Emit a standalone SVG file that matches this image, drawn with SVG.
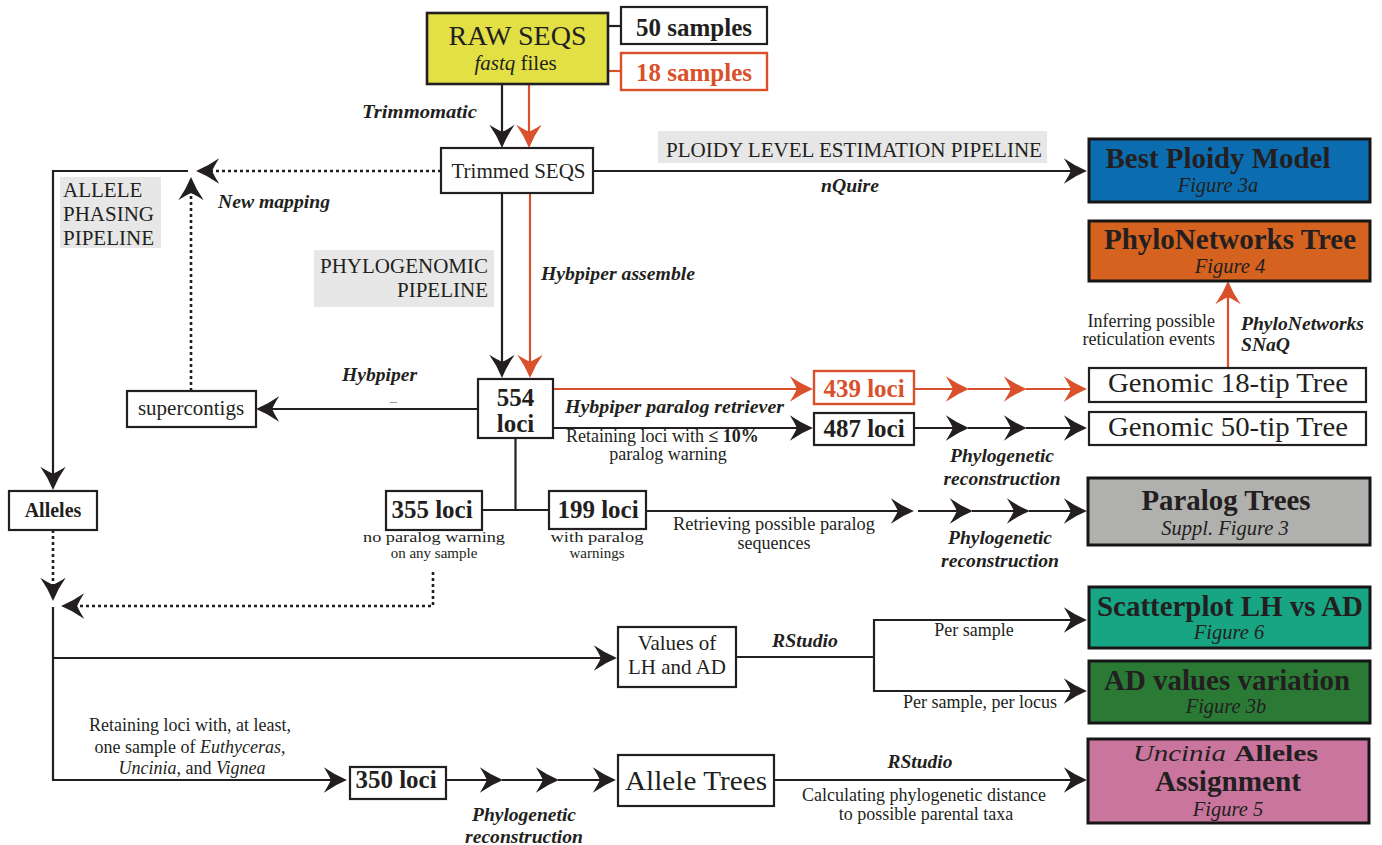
<svg xmlns="http://www.w3.org/2000/svg" width="1382" height="845" viewBox="0 0 1382 845">
<style>
text{font-family:"Liberation Serif","Times New Roman",serif;fill:#231f20}
.m{font-size:21px}
.s{font-size:18px}
.ss{font-size:15px}
.bi{font-size:19.5px;font-weight:bold;font-style:italic}
.lb{font-size:25px;font-weight:bold}
.ttl{font-size:28.5px;font-weight:bold}
.fig{font-size:20.5px;font-style:italic}
.c{text-anchor:middle}
.e{text-anchor:end}
.red{fill:#d9502a}
.box{fill:#fff;stroke:#231f20;stroke-width:2.2}
.rbox{fill:#fff;stroke:#d9502a;stroke-width:2.4}
.out{stroke:#161616;stroke-width:3}
.gbg{fill:#e6e7e6}
.ln{fill:none;stroke:#231f20;stroke-width:2.2}
.rl{fill:none;stroke:#d9502a;stroke-width:2.2}
.dt{stroke-dasharray:3 3;stroke-width:2.6}
.ak{marker-end:url(#ak)}
.ar{marker-end:url(#ar)}
</style>
<defs>
<marker id="ak" markerUnits="userSpaceOnUse" markerWidth="30" markerHeight="30" viewBox="-16 -13 24 26" refX="0" refY="0" orient="auto" overflow="visible">
<path d="M6,0 Q-4,-4 -14,-11 Q-9,-3 -8,0 Q-9,3 -14,11 Q-4,4 6,0Z" fill="#231f20"/>
</marker>
<marker id="ar" markerUnits="userSpaceOnUse" markerWidth="30" markerHeight="30" viewBox="-16 -13 24 26" refX="0" refY="0" orient="auto" overflow="visible">
<path d="M6,0 Q-4,-4 -14,-11 Q-9,-3 -8,0 Q-9,3 -14,11 Q-4,4 6,0Z" fill="#d9502a"/>
</marker>
</defs>
<rect width="1382" height="845" fill="#fff"/>

<!-- pipeline labels -->
<g id="label-ploidy"><rect class="gbg" x="658" y="131" width="389" height="32"/><text class="m" x="666" y="157" textLength="376" lengthAdjust="spacingAndGlyphs">PLOIDY LEVEL ESTIMATION PIPELINE</text></g>
<g id="label-allele"><rect class="gbg" x="60" y="177" width="101" height="71"/><text class="m" x="63" y="197">ALLELE</text><text class="m" x="63" y="221">PHASING</text><text class="m" x="63" y="245">PIPELINE</text></g>
<g id="label-phylogenomic"><rect class="gbg" x="314" y="250" width="180" height="57"/><text class="m e" x="488" y="273">PHYLOGENOMIC</text><text class="m e" x="488" y="297">PIPELINE</text></g>

<g id="connectors">
<line class="ln" x1="608" y1="26" x2="621" y2="26"/>
<line class="rl" x1="608" y1="71" x2="621" y2="71"/>
<line class="ln ak" x1="502" y1="84" x2="502" y2="141"/>
<line class="rl ar" x1="529" y1="84" x2="529" y2="141"/>
<line class="ln ak" x1="593" y1="171" x2="1080" y2="171"/>
<line class="ln dt ak" x1="441" y1="171" x2="203" y2="171"/>
<polyline class="ln ak" points="188,171 53,171 53,483"/>
<line class="ln dt ak" x1="191" y1="391" x2="191" y2="184"/>
<line class="ln ak" x1="502" y1="193" x2="502" y2="371"/>
<line class="rl ar" x1="530" y1="193" x2="530" y2="371"/>
<line class="ln ak" x1="478" y1="409" x2="263" y2="409"/>
<line x1="390" y1="402.5" x2="397" y2="402.5" stroke="#9a9a9a" stroke-width="1"/>
<line class="rl ar" x1="553" y1="389" x2="806" y2="389"/>
<line class="ln ak" x1="553" y1="428" x2="806" y2="428"/>
<line class="rl ar" x1="914" y1="389" x2="962" y2="389"/>
<line class="rl ar" x1="968" y1="389" x2="1020" y2="389"/>
<line class="rl ar" x1="1026" y1="389" x2="1080" y2="389"/>
<line class="ln ak" x1="914" y1="428" x2="962" y2="428"/>
<line class="ln ak" x1="968" y1="428" x2="1020" y2="428"/>
<line class="ln ak" x1="1026" y1="428" x2="1080" y2="428"/>
<line class="ln" x1="515.5" y1="438" x2="515.5" y2="510"/>
<line class="ln" x1="482" y1="510" x2="549" y2="510"/>
<line class="ln ak" x1="646" y1="511" x2="907" y2="511"/>
<line class="ln ak" x1="918" y1="511" x2="966" y2="511"/>
<line class="ln ak" x1="972" y1="511" x2="1023" y2="511"/>
<line class="ln ak" x1="1029" y1="511" x2="1080" y2="511"/>
<line class="ln dt ak" x1="53" y1="530" x2="53" y2="594"/>
<polyline class="ln dt ak" points="433,572 433,606 68,606"/>
<polyline class="ln ak" points="53,607 53,780 340,780"/>
<line class="ln ak" x1="53" y1="658" x2="610" y2="658"/>
<line class="ln" x1="736" y1="657" x2="874" y2="657"/>
<line class="ln" x1="874" y1="620" x2="874" y2="691"/>
<line class="ln ak" x1="873" y1="620" x2="1080" y2="620"/>
<line class="ln ak" x1="873" y1="691" x2="1080" y2="691"/>
<line class="ln ak" x1="446" y1="780" x2="496" y2="780"/>
<line class="ln ak" x1="502" y1="780" x2="552" y2="780"/>
<line class="ln ak" x1="558" y1="780" x2="609" y2="780"/>
<line class="ln ak" x1="774" y1="780" x2="1080" y2="780"/>
<line class="rl ar" x1="1228" y1="368" x2="1228" y2="288"/>
</g>

<!-- connector labels -->
<g id="edge-labels">
<text class="bi e" x="477" y="118" textLength="115" lengthAdjust="spacingAndGlyphs">Trimmomatic</text>
<text class="bi" x="218" y="208" textLength="112" lengthAdjust="spacingAndGlyphs">New mapping</text>
<text class="bi c" x="850" y="192" textLength="58" lengthAdjust="spacingAndGlyphs">nQuire</text>
<text class="bi" x="541" y="280" textLength="154" lengthAdjust="spacingAndGlyphs">Hybpiper assemble</text>
<text class="bi" x="342" y="381" textLength="75" lengthAdjust="spacingAndGlyphs">Hybpiper</text>
<text class="bi" x="565" y="413" textLength="219" lengthAdjust="spacingAndGlyphs">Hybpiper paralog retriever</text>
<text class="s" x="566" y="442">Retaining loci with <tspan font-weight="bold">≤ 10%</tspan></text>
<text class="s c" x="668" y="460">paralog warning</text>
<text class="bi c" x="1002" y="462" textLength="104" lengthAdjust="spacingAndGlyphs">Phylogenetic</text>
<text class="bi c" x="1002" y="485" textLength="117" lengthAdjust="spacingAndGlyphs">reconstruction</text>
<text class="s e" x="1215" y="327" font-size="16.5">Inferring possible</text>
<text class="s e" x="1215" y="345" font-size="16.5">reticulation events</text>
<text class="bi" x="1241" y="330" textLength="123" lengthAdjust="spacingAndGlyphs">PhyloNetworks</text>
<text class="bi" x="1241" y="351" textLength="49" lengthAdjust="spacingAndGlyphs">SNaQ</text>
<text class="ss c" x="434" y="542" textLength="142" lengthAdjust="spacingAndGlyphs">no paralog warning</text>
<text class="ss c" x="434" y="558">on any sample</text>
<text class="ss c" x="597" y="542" textLength="93" lengthAdjust="spacingAndGlyphs">with paralog</text>
<text class="ss c" x="597" y="558">warnings</text>
<text class="s c" x="774" y="530" font-size="17.5" textLength="202" lengthAdjust="spacingAndGlyphs">Retrieving possible paralog</text>
<text class="s c" x="774" y="549" font-size="17.5">sequences</text>
<text class="bi c" x="1000" y="544" textLength="104" lengthAdjust="spacingAndGlyphs">Phylogenetic</text>
<text class="bi c" x="1000" y="567" textLength="118" lengthAdjust="spacingAndGlyphs">reconstruction</text>
<text class="bi c" x="805" y="647" textLength="66" lengthAdjust="spacingAndGlyphs">RStudio</text>
<text class="s c" x="974" y="636">Per sample</text>
<text class="s c" x="980" y="708">Per sample, per locus</text>
<text class="s c" x="190" y="731">Retaining loci with, at least,</text>
<text class="s c" x="190" y="753">one sample of <tspan font-style="italic">Euthyceras</tspan>,</text>
<text class="s c" x="192" y="774"><tspan font-style="italic">Uncinia</tspan>, and <tspan font-style="italic">Vignea</tspan></text>
<text class="bi c" x="524" y="821" textLength="104" lengthAdjust="spacingAndGlyphs">Phylogenetic</text>
<text class="bi c" x="524" y="843" textLength="118" lengthAdjust="spacingAndGlyphs">reconstruction</text>
<text class="bi c" x="920" y="768" textLength="65" lengthAdjust="spacingAndGlyphs">RStudio</text>
<text class="s c" x="924" y="801">Calculating phylogenetic distance</text>
<text class="s c" x="926" y="820">to possible parental taxa</text>
</g>

<g id="raw-seqs"><rect x="427" y="13" width="181" height="71" fill="#e2e044" stroke="#231f20" stroke-width="2.6"/><text class="c" x="517.5" y="45" font-size="28">RAW SEQS</text><text class="m c" x="515.5" y="70"><tspan font-style="italic">fastq</tspan> files</text></g>
<g id="samples-50"><rect class="box" x="621" y="7" width="146" height="37"/><text class="lb c" x="694" y="36" font-size="26">50 samples</text></g>
<g id="samples-18"><rect class="rbox" x="621" y="53" width="146" height="37"/><text class="lb c red" x="694" y="81" font-size="26">18 samples</text></g>
<g id="trimmed"><rect class="box" x="441" y="148" width="152" height="45"/><text class="m c" x="518.5" y="178">Trimmed SEQS</text></g>
<g id="supercontigs"><rect class="box" x="127" y="391" width="129" height="36"/><text class="m c" x="191" y="415">supercontigs</text></g>
<g id="loci-554"><rect class="box" x="478" y="379" width="75" height="59"/><text class="lb c" x="515.5" y="406" font-size="26">554</text><text class="lb c" x="515.5" y="432" font-size="26">loci</text></g>
<g id="loci-439"><rect class="rbox" x="814" y="371" width="100" height="33"/><text class="lb c red" x="864" y="397" font-size="26">439 loci</text></g>
<g id="loci-487"><rect class="box" x="814" y="413" width="100" height="32"/><text class="lb c" x="864" y="437" font-size="26">487 loci</text></g>
<g id="loci-355"><rect class="box" x="386" y="491" width="96" height="39"/><text class="lb c" x="432" y="518" font-size="24">355 loci</text></g>
<g id="loci-199"><rect class="box" x="549" y="491" width="97" height="38"/><text class="lb c" x="598" y="518" font-size="24">199 loci</text></g>
<g id="alleles"><rect class="box" x="9" y="491" width="88" height="39"/><text class="c" x="53" y="517" font-size="20" font-weight="bold">Alleles</text></g>
<g id="values"><rect class="box" x="618" y="627" width="118" height="60"/><text class="m c" x="677" y="650">Values of</text><text class="m c" x="677" y="674">LH and AD</text></g>
<g id="loci-350"><rect class="box" x="350" y="767" width="96" height="32"/><text class="lb c" x="396" y="788" font-size="24">350 loci</text></g>
<g id="allele-trees"><rect class="box" x="618" y="755" width="156" height="51"/><text class="c" x="696" y="790" font-size="28" textLength="142" lengthAdjust="spacingAndGlyphs">Allele Trees</text></g>

<g id="best-ploidy"><rect class="out" x="1089" y="139" width="281" height="63" fill="#0b6db0"/><text class="ttl c" x="1218" y="168" textLength="225" lengthAdjust="spacingAndGlyphs">Best Ploidy Model</text><text class="fig c" x="1218" y="192">Figure 3a</text></g>
<g id="phylonetworks"><rect class="out" x="1089" y="221" width="281" height="60" fill="#d5621f"/><text class="ttl c" x="1230" y="249" textLength="252" lengthAdjust="spacingAndGlyphs">PhyloNetworks Tree</text><text class="fig c" x="1230" y="273">Figure 4</text></g>
<g id="genomic-18"><rect class="box" x="1089" y="368" width="277" height="34" stroke-width="2.5"/><text class="c" x="1228" y="392" font-size="27" textLength="240" lengthAdjust="spacingAndGlyphs">Genomic 18-tip Tree</text></g>
<g id="genomic-50"><rect class="box" x="1089" y="412" width="277" height="33" stroke-width="2.5"/><text class="c" x="1228" y="436" font-size="27" textLength="240" lengthAdjust="spacingAndGlyphs">Genomic 50-tip Tree</text></g>
<g id="paralog-trees"><rect class="out" x="1088" y="478" width="282" height="67" fill="#b0b0af"/><text class="ttl c" x="1226" y="510" textLength="169" lengthAdjust="spacingAndGlyphs">Paralog Trees</text><text class="fig c" x="1225" y="535">Suppl. Figure 3</text></g>
<g id="scatterplot"><rect class="out" x="1089" y="587" width="281" height="61" fill="#18a584"/><text class="ttl c" x="1230" y="616" textLength="266" lengthAdjust="spacingAndGlyphs">Scatterplot LH vs AD</text><text class="fig c" x="1229" y="639">Figure 6</text></g>
<g id="ad-values"><rect class="out" x="1089" y="661" width="281" height="62" fill="#2a7a36"/><text class="ttl c" x="1227" y="690" textLength="246" lengthAdjust="spacingAndGlyphs">AD values variation</text><text class="fig c" x="1226" y="713">Figure 3b</text></g>
<g id="uncinia"><rect class="out" x="1088" y="739" width="281" height="84" fill="#c9759e"/><text x="1133" y="761" font-size="23" font-style="italic" textLength="93" lengthAdjust="spacingAndGlyphs">Uncinia</text><text x="1234" y="761" font-size="23" font-weight="bold" textLength="84" lengthAdjust="spacingAndGlyphs">Alleles</text><text class="ttl c" x="1228" y="791" font-size="23" textLength="146" lengthAdjust="spacingAndGlyphs">Assignment</text><text class="fig c" x="1228" y="816" font-size="19">Figure 5</text></g>
</svg>
